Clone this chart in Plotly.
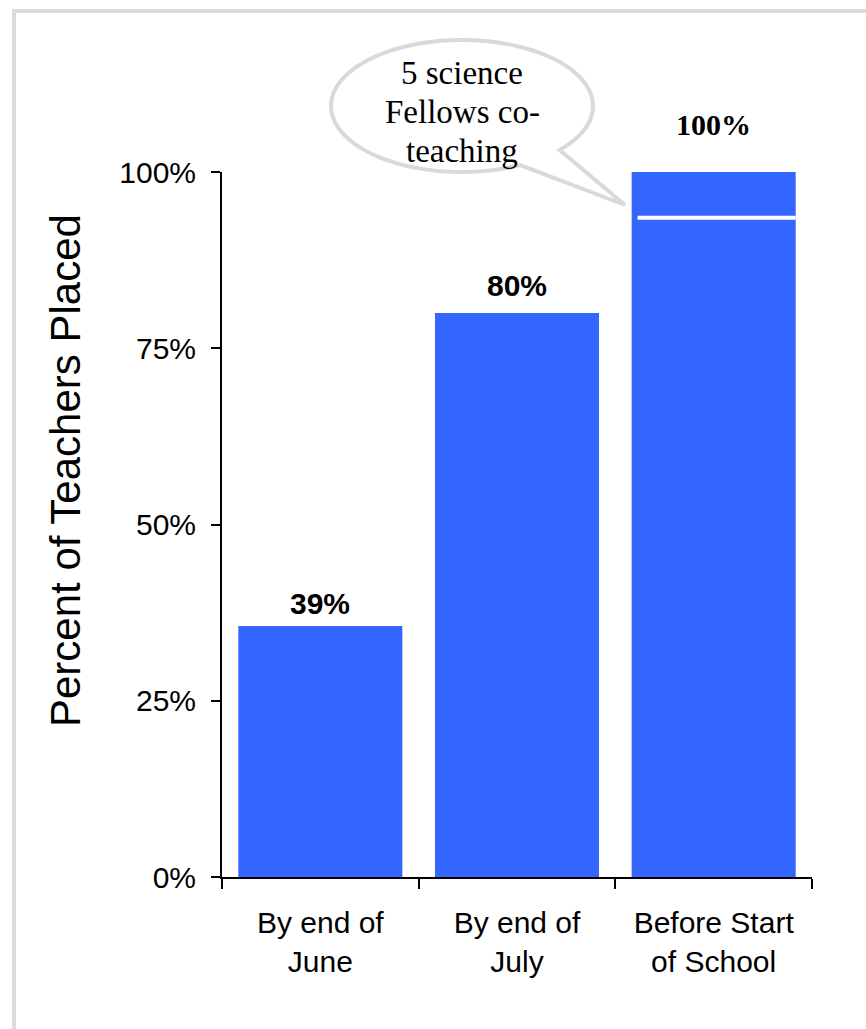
import numpy as np
import plotly.graph_objects as go

# ---- data ----
categories = ["By end of<br>June", "By end of<br>July", "Before Start<br>of School"]
values = [35.6, 80.0, 100.0]
value_labels = ["39%", "80%", "100%"]
coteach_level = 93.5          # white divider in last bar (5 science Fellows co-teaching)
y_ticks = [0, 25, 50, 75, 100]
y_tick_labels = ["0%", "25%", "50%", "75%", "100%"]
callout_lines = ["5 science", "Fellows co-", "teaching"]

# ---- layout geometry (pixels) ----
W, H = 866, 1029
L, R, T, B = 222, 812, 172, 877


def px(x):
    return (x - L) / (R - L)


def py(y):
    return (B - y) / (B - T)


BLUE = "#3366FF"
SANS = "Arial, Liberation Sans, sans-serif"
SERIF = "Book Antiqua, Palatino Linotype, Liberation Serif, serif"

fig = go.Figure()
fig.add_trace(go.Bar(
    x=categories, y=values,
    marker=dict(color=BLUE, line=dict(width=0)),
    cliponaxis=False, hoverinfo="skip",
))

# value labels
label_fonts = [
    dict(family=SANS, size=30, color="black", weight="bold"),
    dict(family=SANS, size=30, color="black", weight="bold"),
    dict(family=SERIF, size=30, color="black", weight="bold"),
]
label_shift = [23, 28, 48]
for c, v, t, f, s in zip(categories, values, value_labels, label_fonts, label_shift):
    fig.add_annotation(x=c, y=v, text=t, showarrow=False, font=f,
                       yanchor="middle", yshift=s)

# white divider in the last bar
half = 0.834 / 2
fig.add_shape(type="line", xref="x", yref="y",
              x0=2 - half + 0.03, x1=2 + half, y0=coteach_level, y1=coteach_level,
              line=dict(color="white", width=4), layer="above")

# speech bubble
cx, cy, rx, ry = 462, 106, 131, 66
t0, t1 = 1.11, 0.73 + 2 * np.pi
ts = np.linspace(t0, t1, 120)
pts = [(cx + rx * np.cos(t), cy + ry * np.sin(t)) for t in ts]
pts.append((625, 205))
path = "M " + " L ".join(f"{px(x):.5f},{py(y):.5f}" for x, y in pts) + " Z"
fig.add_shape(type="path", xref="paper", yref="paper", path=path,
              fillcolor="white", line=dict(color="#d9d9d9", width=4), layer="above")
for line_text, yc in zip(callout_lines, [73, 112, 151]):
    fig.add_annotation(xref="paper", yref="paper", x=px(462), y=py(yc),
                       text=line_text, showarrow=False,
                       font=dict(family=SERIF, size=33, color="black"),
                       xanchor="center", yanchor="middle")

# outer frame
fig.add_shape(type="rect", xref="paper", yref="paper",
              x0=px(14), y0=py(1200), x1=px(1000), y1=py(11),
              line=dict(color="#dcdcdc", width=4), fillcolor="rgba(0,0,0,0)", layer="below")

# y-axis title
fig.add_annotation(xref="paper", yref="paper", x=px(66), y=py(471),
                   text="Percent of Teachers Placed", textangle=-90, showarrow=False,
                   font=dict(family=SANS, size=42, color="black"),
                   xanchor="center", yanchor="middle")

fig.update_layout(
    width=W, height=H,
    margin=dict(l=L, r=W - R, t=T, b=H - B, pad=0),
    paper_bgcolor="white", plot_bgcolor="white",
    bargap=0.166, showlegend=False,
    xaxis=dict(showline=True, linecolor="black", linewidth=2,
               ticks="outside", ticklen=10, tickwidth=2, tickcolor="black",
               tickson="boundaries", showgrid=False, zeroline=False,
               ticklabelstandoff=18,
               tickfont=dict(family=SANS, size=30, color="black")),
    yaxis=dict(range=[0, 100], showline=True, linecolor="black", linewidth=2,
               ticks="outside", ticklen=9, tickwidth=2, tickcolor="black",
               ticklabelstandoff=9,
               tickvals=y_ticks, ticktext=y_tick_labels, showgrid=False, zeroline=False,
               tickfont=dict(family=SANS, size=30, color="black")),
)

fig.write_html("out.html")
